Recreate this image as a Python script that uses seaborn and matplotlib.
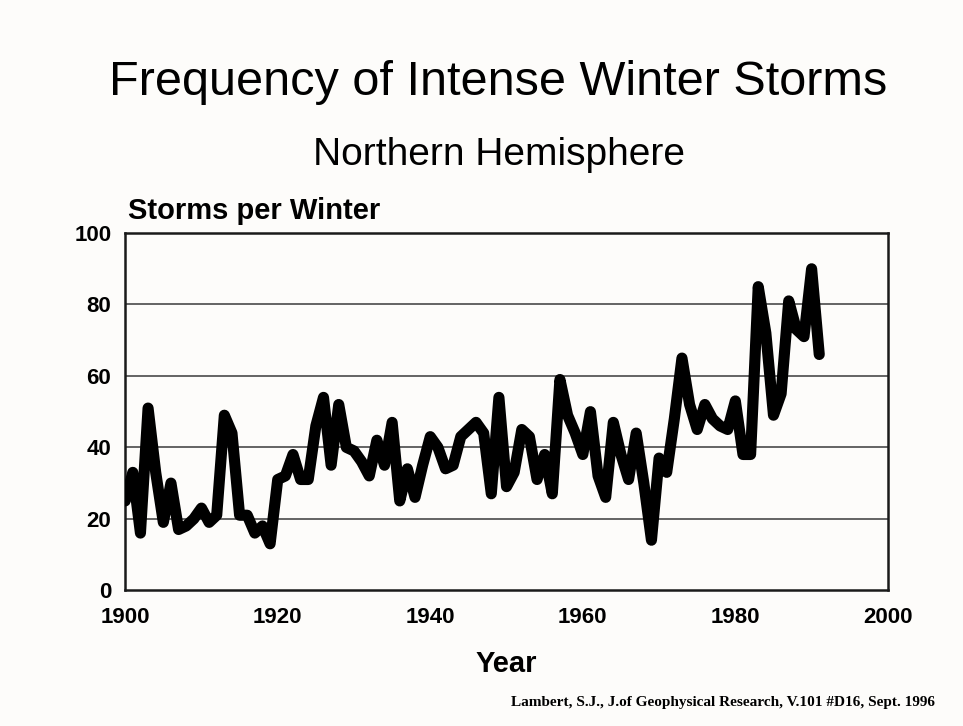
import numpy as np
import pandas as pd
import matplotlib
matplotlib.use("Agg")
import matplotlib.pyplot as plt
import seaborn as sns

# Storms per winter, Northern Hemisphere
years = list(range(1900, 1992))
storms = [25, 33, 16, 51, 33, 19, 30, 17, 18, 20,
          23, 19, 21, 49, 44, 21, 21, 16, 18, 13,
          31, 32, 38, 31, 31, 46, 54, 35, 52, 40,
          39, 36, 32, 42, 35, 47, 25, 34, 26, 35,
          43, 40, 34, 35, 43, 45, 47, 44, 27, 54,
          29, 33, 45, 43, 31, 38, 27, 59, 49, 44,
          38, 50, 32, 26, 47, 38, 31, 44, 30, 14,
          37, 33, 48, 65, 52, 45, 52, 48, 46, 45,
          53, 38, 38, 85, 72, 49, 55, 81, 73, 71,
          90, 66]
xticks = [1900, 1920, 1940, 1960, 1980, 2000]
yticks = [0, 20, 40, 60, 80, 100]

df = pd.DataFrame({"Year": years, "Storms": storms})

sns.set_style("white")
plt.rcParams["font.family"] = ["Liberation Sans", "DejaVu Sans"]
plt.rcParams["text.color"] = "black"

fig = plt.figure(figsize=(9.63, 7.26), dpi=100)
fig.patch.set_facecolor("#fdfcfa")
ax = fig.add_axes([0.130, 0.187, 0.792, 0.492])
ax.set_facecolor("#fdfcfa")

# horizontal grid lines
for v in yticks[1:-1]:
    ax.axhline(v, color="#4a4a4a", lw=1.2, zorder=1)

sns.lineplot(data=df, x="Year", y="Storms", ax=ax, color="black",
             linewidth=8, zorder=3)

ax.set_xlim(1900, 2000)
ax.set_ylim(0, 100)
ax.set_xticks(xticks)
ax.set_yticks(yticks)
ax.set_xticklabels([str(t) for t in xticks], fontsize=16, fontweight="bold",
                   color="black")
ax.set_yticklabels([str(t) for t in yticks], fontsize=16, fontweight="bold",
                   color="black")
ax.tick_params(axis="x", length=0, pad=12)
ax.tick_params(axis="y", length=0, pad=10)
ax.set_xlabel("Year", fontsize=21, fontweight="bold", labelpad=16,
              color="black")
ax.set_ylabel("")
for s in ax.spines.values():
    s.set_color("#1a1a1a")
    s.set_linewidth(1.8)

fig.text(0.517, 0.887, "Frequency of Intense Winter Storms", ha="center",
         va="center", fontsize=35)
fig.text(0.518, 0.787, "Northern Hemisphere", ha="center", va="center",
         fontsize=28)
fig.text(0.133, 0.710, "Storms per Winter", ha="left", va="center",
         fontsize=21, fontweight="bold")
fig.text(0.971, 0.032, "Lambert, S.J., J.of Geophysical Research, V.101 #D16, Sept. 1996",
         ha="right", va="center", fontsize=11, fontweight="bold",
         family=["Liberation Serif", "DejaVu Serif"])

fig.savefig("out.png", dpi=100, facecolor=fig.get_facecolor())
